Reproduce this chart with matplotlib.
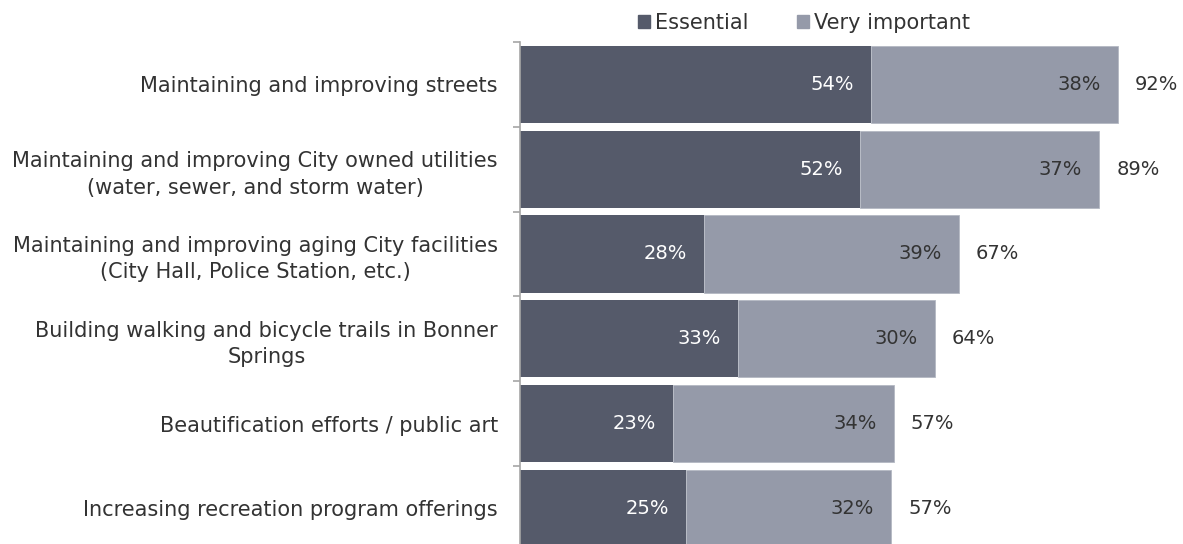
import numpy as np
import matplotlib.pyplot as plt
from matplotlib.patches import Patch
from matplotlib.ticker import FixedLocator

categories = [
    'Maintaining and improving streets',
    'Maintaining and improving City owned utilities\n(water, sewer, and storm water)',
    'Maintaining and improving aging City facilities\n(City Hall, Police Station, etc.)',
    'Building walking and bicycle trails in Bonner\nSprings',
    'Beautification efforts / public art',
    'Increasing recreation program offerings',
]
# bar lengths (percent)
essential = [54.0, 52.3, 28.3, 33.5, 23.5, 25.5]
very_important = [38.0, 36.8, 39.2, 30.3, 34.0, 31.6]
# printed labels
essential_lbl = ['54%', '52%', '28%', '33%', '23%', '25%']
very_lbl = ['38%', '37%', '39%', '30%', '34%', '32%']
total_lbl = ['92%', '89%', '67%', '64%', '57%', '57%']

dark = '#555a6a'
light = '#959aa9'
txt = '#333333'

W, H = 1183, 544
fig = plt.figure(figsize=(W / 100, H / 100), dpi=100)
ax = fig.add_axes([520 / W, 0, 650 / W, (H - 42) / H])

y = np.arange(len(categories))
ess = np.array(essential)
vi = np.array(very_important)
ax.barh(y, ess, height=0.91, color=dark, label='Essential')
ax.barh(y, vi, left=ess, height=0.91, color=light, edgecolor='#b4b8c3',
        linewidth=0.6, label='Very important')

px = 100 / 650  # one pixel in data units (xlim 0..100)
for i in range(len(y)):
    ax.text(ess[i] - 17 * px, y[i], essential_lbl[i], ha='right', va='center',
            color='white', fontsize=14)
    ax.text(ess[i] + vi[i] - 17 * px, y[i], very_lbl[i], ha='right', va='center',
            color=txt, fontsize=14)
    ax.text(ess[i] + vi[i] + 17 * px, y[i], total_lbl[i], ha='left', va='center',
            color=txt, fontsize=14)

ax.set_xlim(0, 100)
ax.set_ylim(5.42, -0.5)
ax.set_xticks([])
ax.set_yticks(y)
ax.set_yticklabels(categories, fontsize=15, color=txt, ha='right', linespacing=1.4)
ax.tick_params(axis='y', which='major', length=0, pad=16)
for lab in ax.get_yticklabels():
    lab.set_multialignment('center')
ax.yaxis.set_minor_locator(FixedLocator(np.arange(-0.5, 5.0, 1.0)))
ax.tick_params(axis='y', which='minor', length=5, width=1.2, color='#a6a6a6', direction='out')

for s in ['top', 'right', 'bottom']:
    ax.spines[s].set_visible(False)
ax.spines['left'].set_color('#a6a6a6')
ax.spines['left'].set_linewidth(1.2)

handles = [Patch(color=dark, label='Essential'), Patch(color=light, label='Very important')]
fig.legend(handles=handles, loc='center', bbox_to_anchor=(804 / W, 1 - 23 / H), ncol=2,
           frameon=False, fontsize=15, handlelength=0.6, handleheight=0.6,
           handletextpad=0.25, columnspacing=2.3, labelcolor=txt)

fig.savefig('out.png', dpi=100)
